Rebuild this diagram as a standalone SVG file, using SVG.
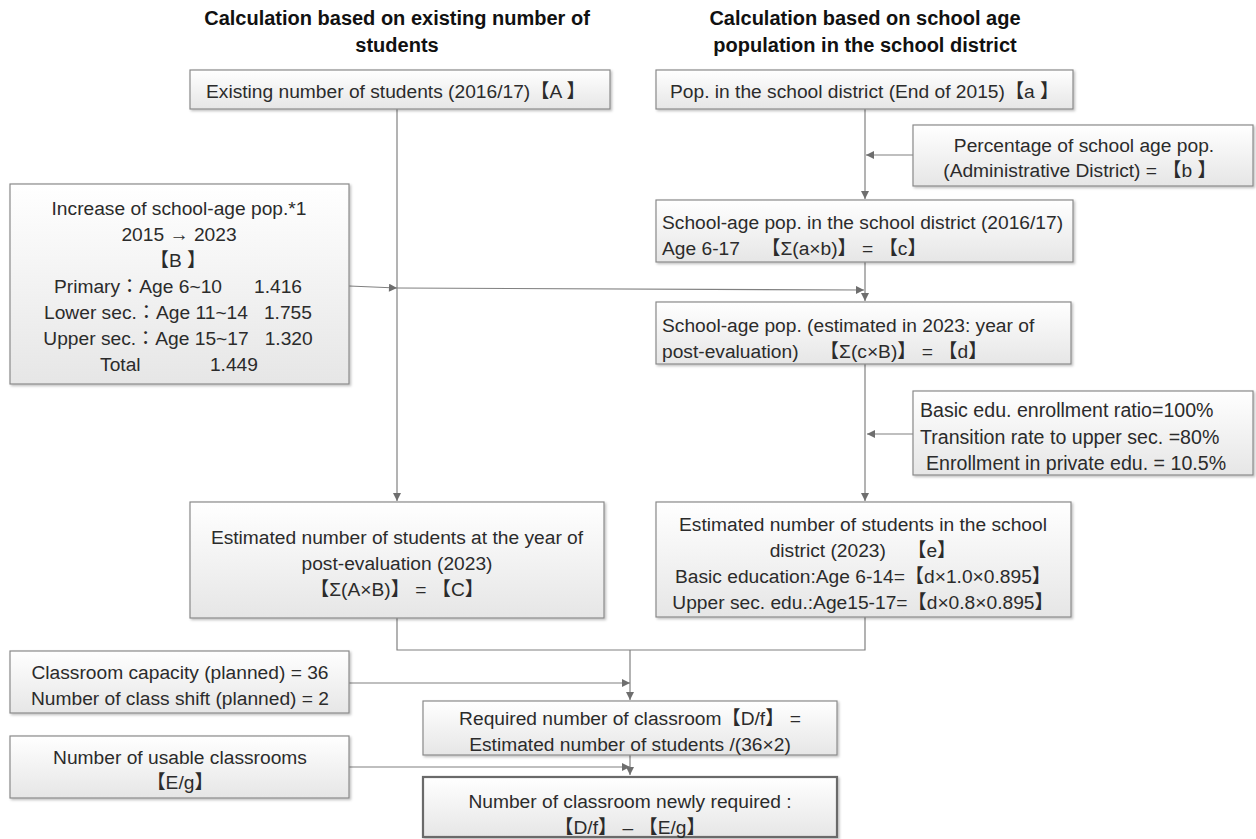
<svg xmlns="http://www.w3.org/2000/svg" width="1256" height="839" viewBox="0 0 1256 839">
<defs>
<linearGradient id="g" x1="0" y1="0" x2="0" y2="1">
<stop offset="0" stop-color="#ffffff"/>
<stop offset="1" stop-color="#e6e6e6"/>
</linearGradient>
<filter id="sh" x="-5%" y="-5%" width="110%" height="120%">
<feDropShadow dx="1.5" dy="1.5" stdDeviation="1" flood-color="#000" flood-opacity="0.25"/>
</filter>
<marker id="ar" viewBox="0 0 10 10" refX="10" refY="5" markerWidth="10" markerHeight="8" markerUnits="userSpaceOnUse" orient="auto">
<path d="M0,0 L10,5 L0,10 z" fill="#6e6e6e"/>
</marker>
</defs>
<style>
text{font-family:"Liberation Sans","Noto Sans CJK JP",sans-serif;font-size:19.2px;fill:#2b2b2b}
.h{font-weight:bold;font-size:20px;fill:#111}
.r{font-size:19.6px}
.b{fill:url(#g);stroke:#8a8a8a;stroke-width:1.2;filter:url(#sh)}
.bf{fill:url(#g);stroke:#6a6a6a;stroke-width:2.2;filter:url(#sh)}
.c{fill:none;stroke:#808080;stroke-width:1.2}
.m{text-anchor:middle}
</style>
<rect width="1256" height="839" fill="#fff"/>
<g id="headers">
<text class="h m" x="397" y="25">Calculation based on existing number of</text>
<text class="h m" x="397" y="52">students</text>
<text class="h m" x="865" y="25">Calculation based on school age</text>
<text class="h m" x="865" y="52">population in the school district</text>
</g>
<g id="connectors">
<path class="c" d="M397,109 V501" marker-end="url(#ar)"/>
<path class="c" d="M349,286 L397,288" marker-end="url(#ar)"/>
<path class="c" d="M397,288 L864,290" marker-end="url(#ar)"/>
<path class="c" d="M865,109 V199" marker-end="url(#ar)"/>
<path class="c" d="M913,155 H866" marker-end="url(#ar)"/>
<path class="c" d="M865,262 V301" marker-end="url(#ar)"/>
<path class="c" d="M865,364 V501" marker-end="url(#ar)"/>
<path class="c" d="M913,434 H867" marker-end="url(#ar)"/>
<path class="c" d="M397,618 V650 H865 V617"/>
<path class="c" d="M630,650 V700" marker-end="url(#ar)"/>
<path class="c" d="M349,683 H630" marker-end="url(#ar)"/>
<path class="c" d="M630,755 V775" marker-end="url(#ar)"/>
<path class="c" d="M349,767 H630" marker-end="url(#ar)"/>
</g>
<g id="nodeA">
<rect class="b" x="190" y="70" width="420" height="39"/>
<text x="206" y="98">Existing number of students (2016/17)【A 】</text>
</g>
<g id="nodea">
<rect class="b" x="656" y="70" width="417" height="39"/>
<text x="670" y="98">Pop. in the school district (End of 2015)【a 】</text>
</g>
<g id="nodeb">
<rect class="b" x="913" y="125" width="340" height="61"/>
<text class="m" x="1084" y="152">Percentage of school age pop.</text>
<text class="m" x="1080" y="177">(Administrative District) = 【b 】</text>
</g>
<g id="nodec">
<rect class="b" x="656" y="200" width="417" height="62"/>
<text x="662" y="229">School-age pop. in the school district (2016/17)</text>
<text x="662" y="255" xml:space="preserve">Age 6-17    【Σ(a×b)】 = 【c】</text>
</g>
<g id="nodeB">
<rect class="b" x="10" y="184" width="339" height="200"/>
<text class="m" x="179" y="215">Increase of school-age pop.*1</text>
<text class="m" x="179" y="241">2015 → 2023</text>
<text class="m" x="178" y="267">【B 】</text>
<text class="m" x="178" y="293" xml:space="preserve">Primary：Age 6~10      1.416</text>
<text class="m" x="178" y="319" xml:space="preserve">Lower sec.：Age 11~14   1.755</text>
<text class="m" x="178" y="345" xml:space="preserve">Upper sec.：Age 15~17   1.320</text>
<text class="m" x="179" y="371" xml:space="preserve">Total             1.449</text>
</g>
<g id="noded">
<rect class="b" x="656" y="302" width="415" height="62"/>
<text x="662" y="332">School-age pop. (estimated in 2023: year of</text>
<text x="662" y="358" xml:space="preserve">post-evaluation)    【Σ(c×B)】 = 【d】</text>
</g>
<g id="noderates">
<rect class="b" x="913" y="391" width="340" height="84"/>
<text class="r" x="920" y="417">Basic edu. enrollment ratio=100%</text>
<text class="r" x="920" y="444">Transition rate to upper sec. =80%</text>
<text class="r" x="926" y="470">Enrollment in private edu. = 10.5%</text>
</g>
<g id="nodeC">
<rect class="b" x="190" y="502" width="414" height="116"/>
<text class="m" x="397" y="544">Estimated number of students at the year of</text>
<text class="m" x="397" y="570">post-evaluation (2023)</text>
<text class="m" x="397" y="596">【Σ(A×B)】 = 【C】</text>
</g>
<g id="nodee">
<rect class="b" x="656" y="502" width="415" height="115"/>
<text class="m" x="863" y="531">Estimated number of students in the school</text>
<text class="m" x="863" y="557" xml:space="preserve">district (2023)    【e】</text>
<text class="m" x="863" y="583">Basic education:Age 6-14=【d×1.0×0.895】</text>
<text class="m" x="863" y="609">Upper sec. edu.:Age15-17=【d×0.8×0.895】</text>
</g>
<g id="nodecap">
<rect class="b" x="10" y="651" width="339" height="62"/>
<text class="m" x="180" y="679">Classroom capacity (planned) = 36</text>
<text class="m" x="180" y="705">Number of class shift (planned) = 2</text>
</g>
<g id="nodeDf">
<rect class="b" x="423" y="701" width="414" height="54"/>
<text class="m" x="630" y="725">Required number of classroom【D/f】 =</text>
<text class="m" x="630" y="751">Estimated number of students /(36×2)</text>
</g>
<g id="nodeusable">
<rect class="b" x="10" y="736" width="339" height="62"/>
<text class="m" x="180" y="764">Number of usable classrooms</text>
<text class="m" x="180" y="789">【E/g】</text>
</g>
<g id="nodefinal">
<rect class="bf" x="423" y="777" width="414" height="60"/>
<text class="m" x="630" y="808">Number of classroom newly required :</text>
<text class="m" x="630" y="834">【D/f】 – 【E/g】</text>
</g>
</svg>
